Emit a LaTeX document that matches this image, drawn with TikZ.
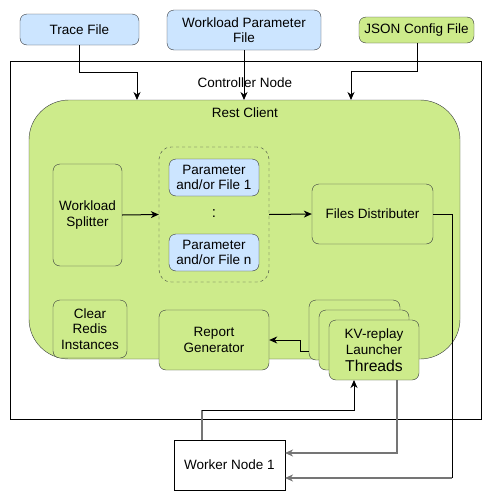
\documentclass[tikz,border=0pt]{standalone}
\usepackage{fontspec}
\setmainfont{Liberation Sans}
\usetikzlibrary{arrows.meta}
\definecolor{bluefill}{HTML}{CCE5FF}
\definecolor{greenfill}{HTML}{CDEB8B}
\definecolor{edgegray}{HTML}{36393D}
\definecolor{linegray}{HTML}{757575}
\tikzset{
  txt/.style={font=\fontsize{13.5}{15.5}\selectfont, align=center},
  rbox/.style={draw=edgegray, rounded corners=7pt, inner sep=0pt, txt},
  bluebox/.style={rbox, fill=bluefill},
  greenbox/.style={rbox, fill=greenfill},
  arr/.style={-{Stealth[length=8pt,width=7pt,inset=2.5pt]}, line width=1pt},
  conn/.style={line width=1pt},
  grayline/.style={linegray, line width=1.4pt},
}
\begin{document}
\begin{tikzpicture}[x=1pt,y=-1pt]
\useasboundingbox (0,0) rectangle (491,501);
% top inputs
\node[bluebox, minimum width=119pt, minimum height=31pt] (trace) at (79.5,29.5) {Trace File};
\node[bluebox, minimum width=154pt, minimum height=40pt] (wpf) at (244,30) {Workload Parameter\\File};
\node[greenbox, minimum width=115pt, minimum height=26pt] (json) at (416.5,30) {JSON Config File};
% controller
\node[draw=black, line width=1pt, minimum width=471pt, minimum height=358pt, inner sep=0pt] (ctrl) at (245.5,240) {};
\node[txt] (ctrllabel) at (245,83) {Controller Node};
% rest client
\node[draw=edgegray, fill=greenfill, rounded corners=40pt, minimum width=431pt, minimum height=259pt, inner sep=0pt] (rest) at (244.5,229.5) {};
\node[txt] (restlabel) at (245,113) {Rest Client};
% inner nodes
\node[greenbox, minimum width=69pt, minimum height=102pt] (split) at (87.5,215) {Workload\\Splitter};
\node[draw=edgegray, dash pattern=on 3pt off 3pt, rounded corners=12pt, minimum width=110pt, minimum height=135pt, inner sep=0pt] (group) at (214,214.5) {};
\node[bluebox, minimum width=90pt, minimum height=37pt] (p1) at (214,177.5) {Parameter\\and/or File 1};
\node[bluebox, minimum width=90pt, minimum height=37pt] (pn) at (214,252.5) {Parameter\\and/or File n};
\node[font=\fontsize{15}{15}\selectfont] (dots) at (214,214) {:};
\node[greenbox, minimum width=121pt, minimum height=60pt] (files) at (372.5,214) {Files Distributer};
\node[greenbox, minimum width=74pt, minimum height=58pt] (clear) at (90,329) {Clear\\Redis\\Instances};
\node[greenbox, minimum width=110pt, minimum height=60pt] (report) at (214,340) {Report\\Generator};
\node[greenbox, minimum width=91pt, minimum height=60pt] (kvback) at (354.5,330) {};
\node[greenbox, minimum width=90pt, minimum height=60pt] (kvmid) at (364,340) {};
\node[greenbox, minimum width=90pt, minimum height=60pt, font=\fontsize{13.5}{16.5}\selectfont] (kv) at (374,350) {KV-replay\\Launcher\\{\fontsize{15.7}{16.5}\selectfont Threads}};
% worker
\node[draw=black, line width=1pt, fill=white, minimum width=111pt, minimum height=50pt, inner sep=0pt, txt] (worker) at (229.5,465) {Worker Node 1};
% coordinates
\coordinate (t1) at (79.5,72);
\coordinate (t2) at (137,72);
\coordinate (t3) at (137,100);
\coordinate (w3) at (244,100);
\coordinate (j1) at (417,71);
\coordinate (j2) at (351,71);
\coordinate (j3) at (351,100);
\coordinate (r1) at (300,351);
\coordinate (r2) at (300,340);
\coordinate (kvb) at (309,351);
\coordinate (wk1) at (202,440);
\coordinate (wk2) at (202,410);
\coordinate (wk3) at (354,410);
\coordinate (kvbot) at (354,380);
\coordinate (kvout) at (397,380);
\coordinate (ko1) at (397,453);
\coordinate (wkin1) at (285,453);
\coordinate (f1) at (452,214);
\coordinate (f2) at (452,478);
\coordinate (wkin2) at (285,478);
% connectors
\draw[arr] (trace.south) -- (t1) -- (t2) -- (t3);
\draw[arr] (wpf.south) -- (w3);
\draw[arr] (json.south -| j1) -- (j1) -- (j2) -- (j3);
\draw[arr] (split.east) -- (group.west);
\draw[arr] (group.east) -- (files.west);
\draw[arr] (kvb) -- (r1) -- (r2) -- (report.east |- r2);
\draw[grayline] (wk1) -- (wk2);
\draw[arr] (wk2) -- (wk3) -- (kvbot);
\draw[arr, grayline] (kvout) -- (ko1) -- (wkin1);
\draw[conn] (files.east) -- (f1) -- (f2);
\draw[arr, grayline] (f2) -- (wkin2);
\end{tikzpicture}
\end{document}
